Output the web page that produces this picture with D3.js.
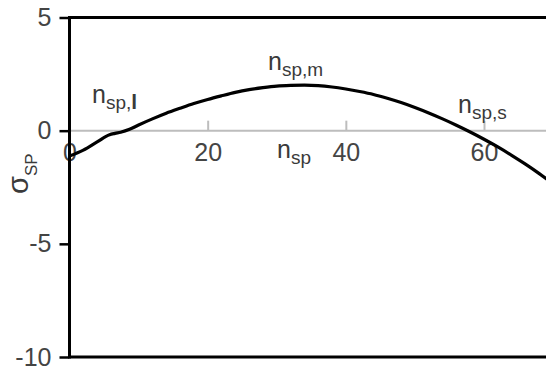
<!DOCTYPE html>
<html>
<head>
<meta charset="utf-8">
<script src="https://cdn.jsdelivr.net/npm/d3@7"></script>
<style>
  html, body { margin: 0; padding: 0; background: #fff; }
  svg { display: block; font-family: "Liberation Sans", Arial, sans-serif; }
</style>
</head>
<body>
<svg id="chart" width="546" height="370"></svg>
<script>
// Stress difference sigma_SP as a function of n_sp
const nValues = [0, 2, 4, 5.8, 6.6, 7.4, 8.7, 10, 12, 14, 16, 18, 20, 22, 24, 26, 28, 30, 32, 34, 36, 38, 40, 42, 44, 46, 48, 50, 52, 54, 56, 58, 60, 62, 64, 66, 68, 70];
const sigmaValues = [-1.12, -0.86, -0.5, -0.18, -0.12, -0.07, 0.06, 0.25, 0.52, 0.77, 0.99, 1.2, 1.38, 1.54, 1.69, 1.81, 1.9, 1.97, 2.0, 2.01, 1.99, 1.93, 1.84, 1.73, 1.6, 1.43, 1.24, 1.02, 0.78, 0.52, 0.24, -0.06, -0.38, -0.72, -1.09, -1.48, -1.9, -2.35];
const xTicks = [0, 20, 40, 60];
const yTicks = [5, 0, -5, -10];

const svg = d3.select("#chart");
const x = d3.scaleLinear().domain([0, 60]).range([69.5, 484]);
const y = d3.scaleLinear().domain([-10, 5]).range([357, 17.5]);
const W = 546;
const fmt = d => String(d);

// zero reference line with small upward ticks
svg.append("line")
  .attr("x1", x(0)).attr("x2", W)
  .attr("y1", y(0)).attr("y2", y(0))
  .attr("stroke", "#bdbdbd").attr("stroke-width", 2);

const xAxis = svg.append("g")
  .attr("transform", `translate(0,${y(0)})`)
  .call(d3.axisBottom(x).tickValues(xTicks).tickFormat(fmt).tickSize(-10).tickPadding(13));
xAxis.select(".domain").remove();
xAxis.selectAll(".tick line").attr("stroke", "#bdbdbd").attr("stroke-width", 2)
  .filter(d => d === 0).remove();
xAxis.selectAll(".tick text")
  .attr("font-size", 25).attr("fill", "#444").attr("font-family", "Liberation Sans, Arial, sans-serif");

// frame: top and bottom rules
svg.append("line").attr("x1", x(0)).attr("x2", W).attr("y1", y(5)).attr("y2", y(5))
  .attr("stroke", "#000").attr("stroke-width", 3);
svg.append("line").attr("x1", x(0)).attr("x2", W).attr("y1", y(-10)).attr("y2", y(-10))
  .attr("stroke", "#000").attr("stroke-width", 3);

// y axis
const yAxis = svg.append("g")
  .attr("transform", `translate(${x(0)},0)`)
  .call(d3.axisLeft(y).tickValues(yTicks).tickFormat(fmt).tickSize(10).tickPadding(8));
yAxis.select(".domain").remove();
yAxis.selectAll(".tick line").attr("stroke", "#000").attr("stroke-width", 2.5);
yAxis.selectAll(".tick text")
  .attr("font-size", 25).attr("fill", "#444").attr("font-family", "Liberation Sans, Arial, sans-serif");
svg.append("line").attr("x1", x(0)).attr("x2", x(0)).attr("y1", y(5) - 1.5).attr("y2", y(-10) + 1.5)
  .attr("stroke", "#000").attr("stroke-width", 3);

// curve
const line = d3.line()
  .x((d, i) => x(nValues[i]))
  .y(d => y(d))
  .curve(d3.curveMonotoneX);
svg.append("path")
  .datum(sigmaValues)
  .attr("d", line)
  .attr("fill", "none")
  .attr("stroke", "#000")
  .attr("stroke-width", 3.2)
  .attr("stroke-linejoin", "round");

// labels with subscripts
function label(px, py, main, sub, boldTail) {
  const t = svg.append("text")
    .attr("x", px).attr("y", py)
    .attr("fill", "#3a3a3a");
  t.append("tspan").attr("font-size", 25).text(main);
  t.append("tspan").attr("font-size", 19).attr("dy", 6).text(sub);
  if (boldTail) {
    t.append("tspan").attr("font-size", 21).attr("font-weight", "bold").text(boldTail);
  }
  return t;
}
label(92, 103, "n", "sp,", "l");
label(268, 70, "n", "sp,m");
label(458, 113, "n", "sp,s");
label(277, 158, "n", "sp");

// y axis title
const yt = svg.append("text")
  .attr("transform", "translate(28,194) rotate(-90)")
  .attr("fill", "#3a3a3a");
yt.append("tspan").attr("font-size", 29).text("σ");
yt.append("tspan").attr("font-size", 17).attr("dy", 9).text("SP");
</script>
</body>
</html>
